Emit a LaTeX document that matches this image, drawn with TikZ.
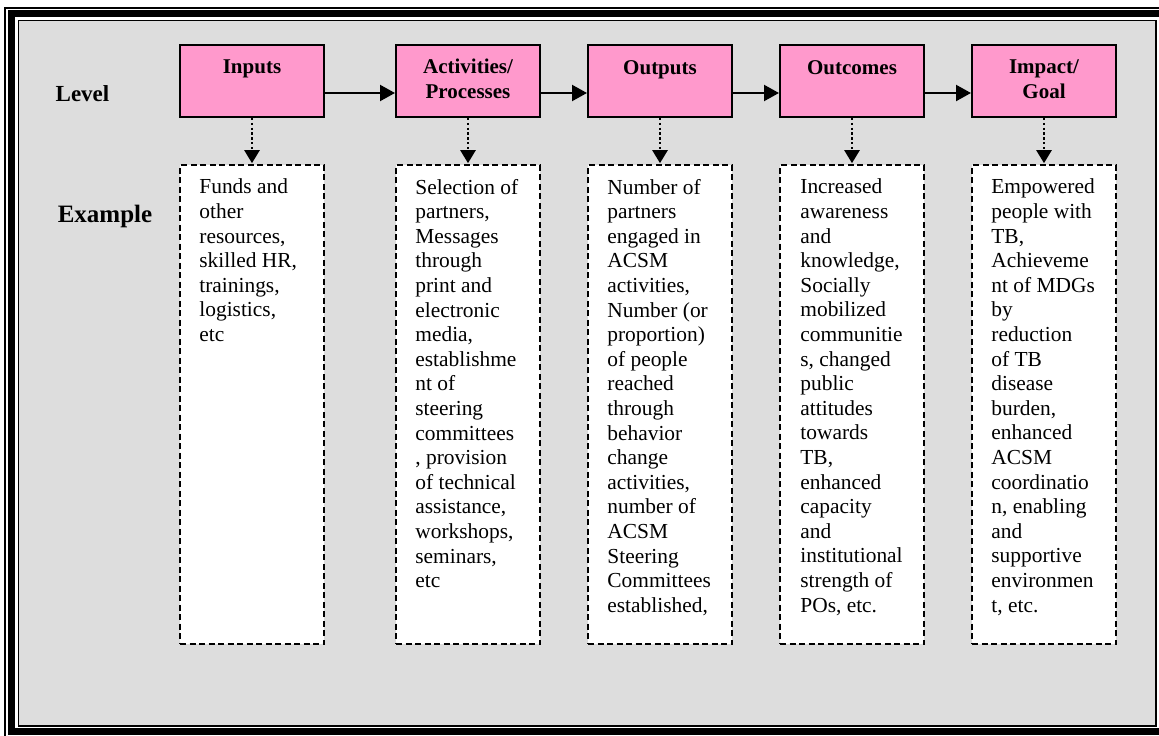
\documentclass[tikz,border=0pt]{standalone}
\usepackage{fontspec}
\setmainfont{Liberation Serif}
\usetikzlibrary{arrows.meta,positioning}
\definecolor{lvlpink}{HTML}{FF99CC}
\definecolor{framegray}{HTML}{DDDDDD}

\tikzset{
  lvlbox/.style={draw, fill=lvlpink, line width=2pt, minimum width=144pt, minimum height=72pt, inner sep=0pt},
  exbox/.style={draw, fill=white, line width=1.6pt, dash pattern=on 6pt off 3.5pt, minimum width=144pt, minimum height=479pt, inner sep=0pt},
  lvltitle/.style={font=\bfseries\fontsize{21}{25}\selectfont, align=center, inner sep=0pt},
  extext/.style={font=\fontsize{21.4}{24.6}\selectfont, align=left, inner sep=0pt},
  flow/.style={line width=2.2pt, -{Triangle[length=15pt,width=16pt]}},
  link/.style={line width=2.4pt, dash pattern=on 2.4pt off 2.4pt, -{Triangle[length=13pt,width=15pt]}, shorten >=1pt},
  rowlabel/.style={font=\bfseries\fontsize{23}{27}\selectfont, inner sep=0pt, anchor=base}
}

\begin{document}
\begin{tikzpicture}[x=1pt,y=-1pt]
  % 枠
  \useasboundingbox (0,0) rectangle (1159,736);
  \clip (0,0) rectangle (1159,736);
  \fill[white] (0,0) rectangle (1159,736);
  \fill[framegray] (18.5,20.5) rectangle (1156,726);
  \draw[line width=1.5pt] (5,8) rectangle (1175,750);
  \draw[line width=7pt] (11.5,13.5) rectangle (1165,731.5);
  \draw[line width=1.5pt] (18.5,20.5) rectangle (1156,726);

  % 行ラベル
  \node[rowlabel] (level) at (82.5,101) {Level};
  \node[rowlabel, font=\bfseries\fontsize{25}{29}\selectfont] (example) at (105,222) {Example};

  % 段階の箱
  \node[lvlbox] (inputs) at (252,81) {};
  \node[lvlbox] (acts) at (468,81) {};
  \node[lvlbox] (outputs) at (660,81) {};
  \node[lvlbox] (outcomes) at (852,81) {};
  \node[lvlbox] (impact) at (1044,81) {};

  \node[lvltitle, below=16pt of inputs.north] (inputs-t) {Inputs};
  \node[lvltitle, below=15pt of acts.north] (acts-t) {Activities/\\Processes};
  \node[lvltitle, below=16pt of outputs.north] (outputs-t) {Outputs};
  \node[lvltitle, below=16pt of outcomes.north] (outcomes-t) {Outcomes};
  \node[lvltitle, below=15pt of impact.north] (impact-t) {Impact/\\Goal};

  % 段階の流れ
  \draw[flow] ([yshift=-12pt]inputs.east) -- ([yshift=-12pt]acts.west);
  \draw[flow] ([yshift=-12pt]acts.east) -- ([yshift=-12pt]outputs.west);
  \draw[flow] ([yshift=-12pt]outputs.east) -- ([yshift=-12pt]outcomes.west);
  \draw[flow] ([yshift=-12pt]outcomes.east) -- ([yshift=-12pt]impact.west);

  % 例の箱
  \node[exbox] (ex1) at (252,404.5) {};
  \node[exbox] (ex2) at (468,404.5) {};
  \node[exbox] (ex3) at (660,404.5) {};
  \node[exbox] (ex4) at (852,404.5) {};
  \node[exbox] (ex5) at (1044,404.5) {};

  \draw[link] (inputs) -- (ex1);
  \draw[link] (acts) -- (ex2);
  \draw[link] (outputs) -- (ex3);
  \draw[link] (outcomes) -- (ex4);
  \draw[link] (impact) -- (ex5);

  \node[extext, below right=14.7pt and 20pt of ex1.north west] (ex1-t)
    {Funds and\\other\\resources,\\skilled HR,\\trainings,\\logistics,\\etc};
  \node[extext, below right=14.7pt and 20pt of ex2.north west] (ex2-t)
    {Selection of\\partners,\\Messages\\through\\print and\\electronic\\media,\\establishme\\nt of\\steering\\committees\\, provision\\of technical\\assistance,\\workshops,\\seminars,\\etc};
  \node[extext, below right=14.7pt and 20pt of ex3.north west] (ex3-t)
    {Number of\\partners\\engaged in\\ACSM\\activities,\\Number (or\\proportion)\\of people\\reached\\through\\behavior\\change\\activities,\\number of\\ACSM\\Steering\\Committees\\established,};
  \node[extext, below right=14.7pt and 21pt of ex4.north west] (ex4-t)
    {Increased\\awareness\\and\\knowledge,\\Socially\\mobilized\\communitie\\s, changed\\public\\attitudes\\towards\\TB,\\enhanced\\capacity\\and\\institutional\\strength of\\POs, etc.};
  \node[extext, below right=14.7pt and 20pt of ex5.north west] (ex5-t)
    {Empowered\\people with\\TB,\\Achieveme\\nt of MDGs\\by\\reduction\\of TB\\disease\\burden,\\enhanced\\ACSM\\coordinatio\\n, enabling\\and\\supportive\\environmen\\t, etc.};
\end{tikzpicture}
\end{document}
